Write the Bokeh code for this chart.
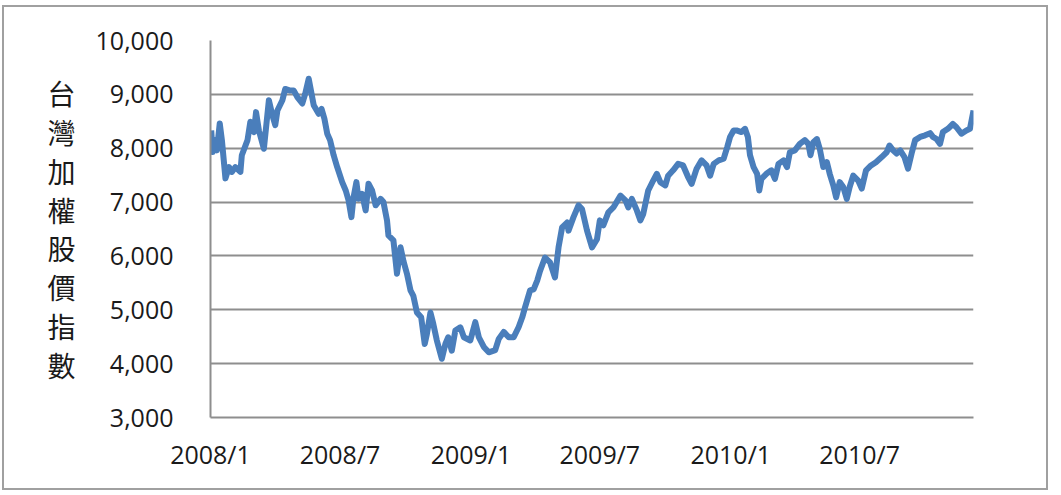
import pandas as pd
from bokeh.plotting import figure
from bokeh.models import FixedTicker, NumeralTickFormatter, Range1d
from bokeh.embed import file_html
from bokeh.resources import INLINE

# ---- data ----
dates = [
    "2008-01-02", "2008-01-04", "2008-01-08", "2008-01-10", "2008-01-14", "2008-01-17",
    "2008-01-22", "2008-01-27", "2008-01-31", "2008-02-05", "2008-02-12", "2008-02-14",
    "2008-02-22", "2008-02-26", "2008-03-02", "2008-03-05", "2008-03-09", "2008-03-16",
    "2008-03-23", "2008-03-28", "2008-04-01", "2008-04-04", "2008-04-11", "2008-04-15",
    "2008-04-22", "2008-04-27", "2008-05-02", "2008-05-09", "2008-05-13", "2008-05-18",
    "2008-05-22", "2008-05-25", "2008-06-01", "2008-06-05", "2008-06-09", "2008-06-13",
    "2008-06-17", "2008-06-22", "2008-06-27", "2008-07-04", "2008-07-09", "2008-07-13",
    "2008-07-17", "2008-07-20", "2008-07-24", "2008-07-27", "2008-08-01", "2008-08-06",
    "2008-08-10", "2008-08-15", "2008-08-20", "2008-08-27", "2008-08-31", "2008-09-05",
    "2008-09-07", "2008-09-14", "2008-09-19", "2008-09-24", "2008-09-28", "2008-10-03",
    "2008-10-08", "2008-10-12", "2008-10-17", "2008-10-23", "2008-10-28", "2008-10-31",
    "2008-11-05", "2008-11-09", "2008-11-14", "2008-11-21", "2008-11-26", "2008-11-30",
    "2008-12-05", "2008-12-10", "2008-12-17", "2008-12-22", "2008-12-31",
    "2009-01-07", "2009-01-12", "2009-01-19", "2009-01-26", "2009-02-04", "2009-02-09",
    "2009-02-16", "2009-02-23", "2009-03-02", "2009-03-09", "2009-03-14", "2009-03-18",
    "2009-03-25", "2009-03-30", "2009-04-04", "2009-04-08", "2009-04-15", "2009-04-22",
    "2009-04-29", "2009-05-04", "2009-05-09", "2009-05-16", "2009-05-18", "2009-05-25",
    "2009-06-01", "2009-06-06", "2009-06-13", "2009-06-20", "2009-06-27", "2009-07-01",
    "2009-07-06", "2009-07-13", "2009-07-20", "2009-07-30", "2009-08-06", "2009-08-10",
    "2009-08-15", "2009-08-22", "2009-08-27", "2009-08-31", "2009-09-07", "2009-09-14",
    "2009-09-19", "2009-09-24", "2009-10-01", "2009-10-05", "2009-10-12", "2009-10-19",
    "2009-10-26", "2009-11-02", "2009-11-07", "2009-11-14", "2009-11-21", "2009-11-28",
    "2009-12-03", "2009-12-08", "2009-12-15", "2009-12-22", "2009-12-27", "2009-12-31",
    "2010-01-05", "2010-01-09", "2010-01-16", "2010-01-21", "2010-01-25", "2010-01-28",
    "2010-02-02", "2010-02-07", "2010-02-10", "2010-02-13", "2010-02-20", "2010-02-27",
    "2010-03-04", "2010-03-09", "2010-03-16", "2010-03-21", "2010-03-25", "2010-04-01",
    "2010-04-08", "2010-04-15", "2010-04-20", "2010-04-23", "2010-04-27", "2010-05-02",
    "2010-05-06", "2010-05-11", "2010-05-16", "2010-05-20", "2010-05-25", "2010-05-29",
    "2010-06-03", "2010-06-08", "2010-06-13", "2010-06-17", "2010-06-22", "2010-06-29",
    "2010-07-04", "2010-07-10", "2010-07-17", "2010-07-24", "2010-08-01", "2010-08-08",
    "2010-08-12", "2010-08-17", "2010-08-22", "2010-08-27", "2010-09-02", "2010-09-07",
    "2010-09-12", "2010-09-17", "2010-09-24", "2010-10-01", "2010-10-08", "2010-10-12",
    "2010-10-17", "2010-10-22", "2010-10-26", "2010-11-02", "2010-11-09", "2010-11-14",
    "2010-11-21", "2010-11-28", "2010-12-03", "2010-12-08",
]

index_values = [
    8330, 7930, 8150, 7960, 8460, 8150,
    7440, 7650, 7560, 7650, 7560, 7870,
    8150, 8490, 8300, 8670, 8330, 7990,
    8890, 8610, 8430, 8700, 8890, 9100,
    9070, 9070, 8950, 8830, 9010, 9290,
    9010, 8800, 8640, 8730, 8550, 8270,
    8150, 7870, 7650, 7370, 7215, 7030,
    6720, 7090, 7370, 7060, 7150, 6845,
    7340, 7215, 6940, 7060, 7000, 6660,
    6380, 6290, 5670, 6160, 5910, 5670,
    5360, 5260, 4950, 4860, 4365, 4550,
    4950, 4740, 4430, 4090, 4365, 4490,
    4240, 4615, 4675, 4490, 4430,
    4770, 4490, 4310, 4210, 4250, 4460,
    4590, 4490, 4490, 4680, 4860, 5050,
    5360, 5380, 5540, 5720, 5970, 5880,
    5600, 6160, 6530, 6620, 6470, 6720,
    6940, 6870, 6470, 6160, 6310, 6660,
    6570, 6810, 6900, 7120, 7030, 6900,
    7060, 6845, 6660, 6780, 7215, 7400,
    7525, 7370, 7310, 7490, 7590, 7710,
    7680, 7465, 7340, 7620, 7775, 7680,
    7490, 7710, 7775, 7805, 8020, 8210,
    8330, 8330, 8300, 8360, 8210, 7870,
    7650, 7525, 7215, 7430, 7525, 7590,
    7430, 7710, 7775, 7650, 7925, 7960,
    8080, 8150, 8080, 7870, 8110, 8170,
    7990, 7650, 7740, 7525, 7310, 7090,
    7370, 7280, 7060, 7280, 7490, 7400,
    7250, 7590, 7680, 7740, 7835, 7925,
    8050, 7960, 7900, 7960, 7835, 7620,
    7900, 8150, 8210, 8240, 8280, 8210,
    8170, 8080, 8300, 8360, 8450, 8390,
    8270, 8330, 8360, 8700,
]

tick_dates = ["2008-01-01", "2008-07-01", "2009-01-01", "2009-07-01", "2010-01-01", "2010-07-01"]
tick_labels = ["2008/1", "2008/7", "2009/1", "2009/7", "2010/1", "2010/7"]
y_ticks = [3000, 4000, 5000, 6000, 7000, 8000, 9000, 10000]
y_title = "台灣加權股價指數"

# ---- figure ----
x = pd.to_datetime(dates)
x_start = pd.Timestamp("2008-01-01")
x_end = pd.Timestamp(dates[-1])

p = figure(
    width=1046, height=485,
    x_axis_type="datetime",
    x_range=Range1d(x_start, x_end),
    y_range=Range1d(3000, 10000),
    output_backend="svg", toolbar_location=None,
    min_border_left=206, min_border_right=77,
    min_border_top=33, min_border_bottom=75,
    background_fill_color="white", border_fill_color="white",
)
p.styles = {"border": "2px solid #a0a0a0", "margin-left": "2px", "margin-top": "5px"}
p.outline_line_color = None

p.line(x, index_values, line_color="#4A7EBB", line_width=6, line_join="round")

tick_ms = [int(pd.Timestamp(d).value // 10**6) for d in tick_dates]
p.xaxis.ticker = FixedTicker(ticks=tick_ms)
p.xaxis.major_label_overrides = {ms: lab for ms, lab in zip(tick_ms, tick_labels)}
p.yaxis.ticker = FixedTicker(ticks=y_ticks)
p.yaxis.formatter = NumeralTickFormatter(format="0,0")

for ax in (p.xaxis[0], p.yaxis[0]):
    ax.axis_line_color = "#8e8e8e"
    ax.axis_line_width = 2
    ax.major_tick_line_color = None
    ax.minor_tick_line_color = None
    ax.major_label_text_font = "Open Sans"
    ax.major_label_text_font_size = "25px"
    ax.major_label_text_color = "#1a1a1a"

p.xaxis.major_label_standoff = 13
p.yaxis.major_label_standoff = 31

p.yaxis.axis_label = "\n".join(y_title)
p.yaxis.axis_label_orientation = "horizontal"
p.yaxis.axis_label_text_font = "Noto Sans CJK TC"
p.yaxis.axis_label_text_font_size = "28px"
p.yaxis.axis_label_text_font_style = "normal"
p.yaxis.axis_label_text_color = "#1a1a1a"
p.yaxis.axis_label_text_line_height = 0.97
p.yaxis.axis_label_standoff = 17

p.xgrid.grid_line_color = None
p.ygrid.ticker = FixedTicker(ticks=y_ticks)
p.ygrid.grid_line_color = "#8e8e8e"
p.ygrid.grid_line_width = 2

open("out.html", "w").write(file_html(p, INLINE))
